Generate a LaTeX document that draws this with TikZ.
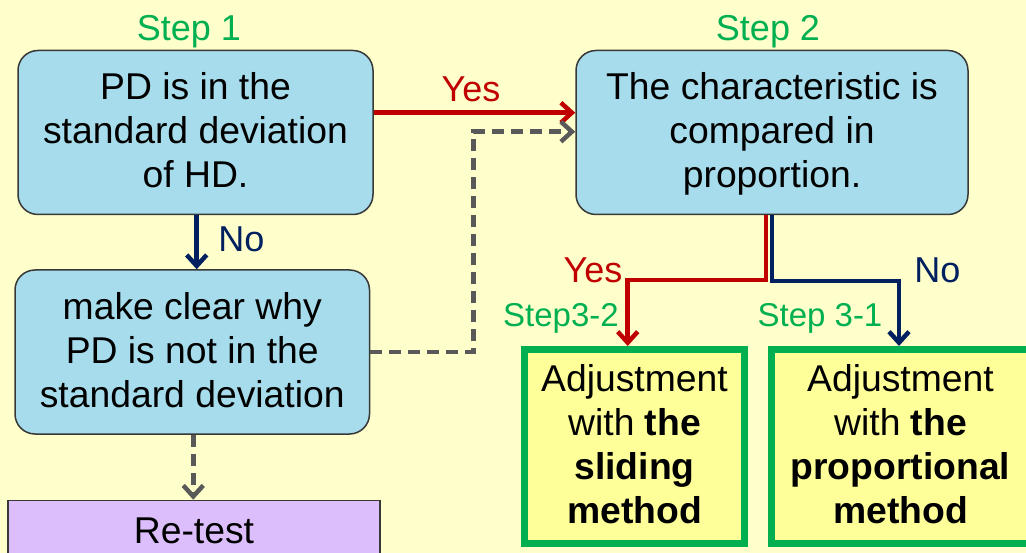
\documentclass[tikz,border=0pt]{standalone}
\usepackage{fontspec}
\setmainfont{Liberation Sans}
\usetikzlibrary{arrows.meta}
\definecolor{bgyellow}{HTML}{FFFFCC}
\definecolor{boxblue}{HTML}{A6DCEB}
\definecolor{boxline}{HTML}{383838}
\definecolor{lavender}{HTML}{DCBEFC}
\definecolor{stepgreen}{HTML}{00B050}
\definecolor{paleyellow}{HTML}{FFFF99}
\definecolor{darkred}{HTML}{C00000}
\definecolor{navy}{HTML}{002060}
\definecolor{dgray}{HTML}{595959}
\newcommand{\lnstrut}{\rule[-11pt]{0pt}{44pt}}
\tikzset{
  boxfont/.style={font=\fontsize{37.3}{44}\selectfont},
  bluebox/.style={boxfont, rectangle, rounded corners=20pt, draw=boxline, line width=1.5pt,
    fill=boxblue, inner sep=0pt, align=center, minimum height=164pt},
  greenbox/.style={boxfont, rectangle, draw=stepgreen, line width=7pt, fill=paleyellow,
    inner sep=0pt, align=center, minimum height=194pt},
  retestbox/.style={boxfont, rectangle, draw=boxline, line width=1.5pt, fill=lavender,
    inner sep=0pt, align=center, minimum width=372pt, minimum height=63pt},
  steplabel/.style={font=\fontsize{36}{43}\selectfont, text=stepgreen, anchor=base, inner sep=0pt},
  substeplabel/.style={font=\fontsize{33}{40}\selectfont, text=stepgreen, anchor=base, inner sep=0pt},
  yeslabel/.style={font=\fontsize{36}{43}\selectfont, text=darkred, anchor=base, inner sep=0pt},
  nolabel/.style={font=\fontsize{36}{43}\selectfont, text=navy, anchor=base, inner sep=0pt},
  tip/.style={-{Straight Barb[length=11pt,width=20pt]}},
  redarrow/.style={tip, draw=darkred, line width=4.5pt},
  navyarrow/.style={tip, draw=navy, line width=4.5pt},
  grayarrow/.style={tip, draw=dgray, line width=4.5pt, dash pattern=on 12pt off 7pt},
}
\begin{document}
\begin{tikzpicture}[x=1pt,y=-1pt]
\useasboundingbox (0,0) rectangle (1026,553);
\clip (0,0) rectangle (1026,553);
\fill[bgyellow] (0,0) rectangle (1026,553);

% boxes
\node[bluebox, minimum width=355pt] (b1) at (195.5,132.5)
  {\lnstrut PD is in the\\\lnstrut standard deviation\\\lnstrut of HD.};
\node[bluebox, minimum width=392pt] (b2) at (772,132.5)
  {\lnstrut The characteristic is\\\lnstrut compared in\\\lnstrut proportion.};
\node[bluebox, minimum width=354.5pt] (b3) at (192.25,352)
  {\lnstrut make clear why\\\lnstrut PD is not in the\\\lnstrut standard deviation};
\node[retestbox] (rt) at (194,532) {\lnstrut Re-test};
\node[greenbox, minimum width=220pt] (g1) at (634.5,446.5)
  {\lnstrut Adjustment\\\lnstrut with \textbf{the}\\\lnstrut\textbf{sliding}\\\lnstrut\textbf{method}};
\node[greenbox, minimum width=259pt] (g2) at (900.5,446.5)
  {\lnstrut Adjustment\\\lnstrut with \textbf{the}\\\lnstrut\textbf{proportional}\\\lnstrut\textbf{method}};

% labels
\node[steplabel] (s1) at (189,41) {Step 1};
\node[steplabel] (s2) at (768,41) {Step 2};
\node[yeslabel] (y1) at (471,101.7) {Yes};
\node[nolabel] (n1) at (241.5,251.7) {No};
\node[yeslabel] (y2) at (593,283) {Yes};
\node[nolabel] (n2) at (937.5,283) {No};
\node[substeplabel] (s32) at (561,326.7) {Step3-2};
\node[substeplabel] (s31) at (820,326.7) {Step 3-1};

% connectors
\draw[redarrow] ([yshift=19.8pt]b1.east) -- ([yshift=19.8pt]b2.west);
\coordinate (dk) at (473.3,131.7);
\draw[grayarrow] (b3.east) -| (dk) -- (dk -| b2.west);
\draw[navyarrow] ([xshift=1.2pt]b1.south) -- ([xshift=1.2pt]b1.south |- b3.north);
\draw[grayarrow] ([xshift=1pt]b3.south) -- ([xshift=1pt]b3.south |- rt.north);
\coordinate (rturn) at (627.7,280);
\draw[redarrow] ([xshift=-6pt]b2.south) |- (rturn) -- (rturn |- g1.north);
\coordinate (nturn) at (899,281);
\draw[navyarrow] (b2.south) |- (nturn) -- (nturn |- g2.north);
\end{tikzpicture}
\end{document}
